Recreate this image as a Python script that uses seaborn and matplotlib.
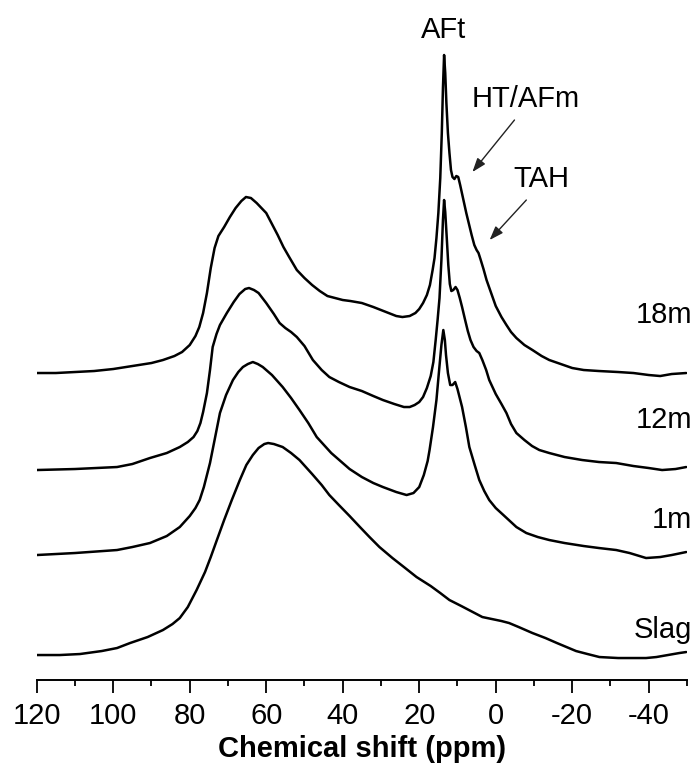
import numpy as np
import pandas as pd
import matplotlib
matplotlib.use("Agg")
import matplotlib.pyplot as plt
from matplotlib.ticker import MultipleLocator
import seaborn as sns

# 27Al MAS NMR spectra, stacked (intensity in a.u. above each trace's own baseline)
ppm_18m = [120, 115, 110, 105, 100, 95, 90, 87, 84, 82, 80, 78.5, 77.5, 76.5, 75.5, 74.5,
           73.5, 72.5, 71, 69.5, 68, 66.5, 65.3, 64, 62.5, 61, 60, 58.5, 57, 55.5, 54, 52,
           50, 48, 46, 44, 42, 40, 38, 35, 32, 30, 28, 26, 24.4, 22.5, 21, 20, 19, 18,
           17.2, 16.5, 16, 15.5, 15, 14.5, 14.1, 13.8, 13.5, 13.2, 12.9, 12.5, 12.1, 11.7,
           11.3, 10.8, 10.3, 9.8, 9.3, 8.5, 7.7, 7, 6.3, 5.6, 5, 4.5, 4, 3.2, 2.4, 1.2, 0,
           -1.5, -2.8, -4, -5.4, -7.5, -9.6, -12, -14, -17, -20, -23, -27, -32, -36, -40,
           -43, -46, -49.8]
int_18m = [0, 0, 1, 2, 4, 7, 10, 13, 17, 21, 28, 37, 46, 60, 80, 105,
           125, 137, 146, 156, 165, 172, 176, 175, 170, 164, 160, 149, 138, 126, 116, 103,
           95, 88, 82, 77, 75, 73, 72, 70, 66, 63, 60, 57, 56, 57, 60, 64, 70, 78,
           88, 103, 115, 135, 160, 195, 240, 285, 318, 300, 270, 240, 220, 203,
           196, 194, 197, 196, 188, 174, 160, 149, 138, 128, 123, 120, 114, 104, 93, 80, 67,
           56, 48, 41, 35, 28, 23, 17, 13, 9, 5, 3, 2, 1, 0, -2,
           -3, -1, 0]

ppm_12m = [120, 110, 99, 95, 90.4, 86, 82.6, 80.5, 79, 78, 77.2, 76.5, 75.5, 74.7, 74, 73,
           72.1, 70.3, 68.5, 67, 65.5, 64.5, 63.2, 62, 61, 60, 58, 56.5, 55, 53.5, 52, 50,
           47.8, 45.5, 43.5, 41, 38.2, 35, 32, 29.5, 26.5, 24, 22.5, 21.2, 20, 19, 18, 17,
           16.3, 15.7, 15.2, 14.7, 14.2, 13.8, 13.5, 13.2, 12.8, 12.4, 12, 11.6, 11.1, 10.5,
           10, 9.4, 8.8, 8, 7.3, 6.6, 5.8, 5, 4.3, 3.5, 2.5, 1.7, 0, -1.5, -2.8, -4, -5.4,
           -7.5, -9.5, -11.4, -14, -18, -22.6, -27, -31.5, -36, -40, -43.5, -47, -49.8]
int_12m = [0, 1, 3, 6, 12, 17, 23, 28, 33, 39, 47, 58, 77, 100, 123, 136,
           145, 157, 168, 176, 181, 182, 180, 177, 172, 167, 156, 147, 142, 138, 133, 124,
           110, 100, 93, 88, 83, 79, 74, 70, 66, 63, 63, 65, 68, 73, 82, 94,
           108, 130, 150, 172, 210, 250, 270, 258, 232, 205, 186, 179, 180, 183,
           180, 172, 163, 150, 139, 130, 123, 119, 117, 110, 100, 90, 76, 66, 57, 46, 37,
           30, 24, 20, 17, 13, 10, 8, 7, 4, 2, 0, 1, 3]

ppm_1m = [120, 110, 99, 95, 90.4, 86, 82.6, 80, 78.5, 77.4, 76.3, 75.5, 74.7, 73.5, 72.1,
          70.5, 68.7, 67.3, 66.1, 64.8, 63.5, 62.2, 60.9, 58.5, 55.7, 53.5, 51.3, 49, 46.8,
          43, 40, 38.2, 35, 32, 29.5, 26, 23.3, 21.5, 20, 18.8, 17.8, 17.3, 16.4, 15.5, 14.8,
          14.2, 13.7, 13.3, 13, 12.5, 11.9, 11.3, 10.6, 10, 9.4, 8.8, 7.8, 6.9, 5.5, 4.3, 3,
          1.7, 0, -2, -5.4, -8, -11, -14, -18, -23, -27, -31.5, -35, -39.3, -43, -46, -49.8]
int_1m = [0, 2, 5, 8, 12, 19, 28, 39, 47, 55, 68, 80, 92, 115, 142,
          160, 175, 183, 188, 191, 193, 191, 188, 180, 168, 157, 145, 132, 118,
          102, 92, 86, 78, 72, 68, 63, 60, 62, 68, 80, 94, 105, 128, 155, 185,
          210, 225, 215, 200, 182, 170, 170, 173, 166, 157, 148, 128, 108, 90, 75, 64,
          55, 47, 40, 28, 22, 18, 15, 12, 9, 7, 5, 2, -3, -2, 0, 3]

ppm_slag = [120, 114, 108.7, 103, 99, 95.6, 91, 87, 84.5, 82.6, 80.5, 78.2, 76, 74.5, 72.9,
            71, 69, 66.9, 65.2, 63.5, 62, 60.5, 59.5, 58, 55.7, 53.5, 51.3, 48, 45.5, 43.5,
            41, 38.2, 35.5, 33, 30.4, 27, 24, 20.7, 17, 14.5, 12.1, 9, 6, 3.5, 1, -1.5, -3.5,
            -6, -9.6, -13, -16, -18.5, -21, -24, -27.1, -32, -36, -39.3, -42, -45, -48, -49.8]
int_slag = [0, 0, 1, 4, 7, 12, 18, 25, 31, 37, 48, 65, 83, 98, 115,
            135, 155, 175, 190, 200, 207, 211, 212, 211, 208, 202, 195, 181, 170, 160,
            150, 139, 128, 118, 108, 97, 88, 78, 69, 62, 55, 49, 43, 38, 36, 34, 32,
            28, 22, 17, 12, 8, 4, 1, -2, -3, -3, -3, -2, 0, 2, 3]

samples = ["18m", "12m", "1m", "Slag"]
offsets = [307, 210, 125, 25]
label_y = [357, 252, 152, 42]

frames = []
for name, x, y, off in zip(samples,
                           [ppm_18m, ppm_12m, ppm_1m, ppm_slag],
                           [int_18m, int_12m, int_1m, int_slag],
                           offsets):
    frames.append(pd.DataFrame({"ppm": x, "signal": np.asarray(y) + off, "sample": name}))
data = pd.concat(frames, ignore_index=True)

sns.set_theme(style="ticks")
plt.rcParams["font.family"] = ["Liberation Sans", "DejaVu Sans"]
plt.rcParams["axes.unicode_minus"] = False

fig = plt.figure(figsize=(6.94, 7.74), dpi=100)
ax = fig.add_axes([0.0529, 0.1214, 0.937, 0.8786])

sns.lineplot(data=data, x="ppm", y="signal", units="sample", estimator=None, sort=False,
             color="black", linewidth=1.8, ax=ax, legend=False)
for line in ax.lines:
    line.set_solid_joinstyle("round")

ax.set_xlim(120, -50)
ax.set_ylim(0, 680)

for s in ["left", "top", "right"]:
    ax.spines[s].set_visible(False)
ax.spines["bottom"].set_linewidth(1.4)
ax.spines["bottom"].set_color("black")
ax.set_yticks([])
ax.set_ylabel("")

ax.xaxis.set_major_locator(MultipleLocator(20))
ax.xaxis.set_minor_locator(MultipleLocator(10))
ax.tick_params(axis="x", which="major", direction="out", length=9.5, width=1.3,
               color="black", labelsize=21, pad=6, labelcolor="black")
ax.tick_params(axis="x", which="minor", direction="out", length=4.5, width=1.3, color="black")
ax.set_xlabel("Chemical shift (ppm)", fontsize=21, fontweight="bold", color="black", labelpad=4)

for name, ly in zip(samples, label_y):
    ax.text(-51.3, ly, name, ha="right", va="baseline", fontsize=21, color="black")

ax.text(13.7, 642, "AFt", ha="center", va="baseline", fontsize=21, color="black")
ax.text(-7.8, 573, "HT/AFm", ha="center", va="baseline", fontsize=21, color="black")
ax.text(-12.0, 493, "TAH", ha="center", va="baseline", fontsize=21, color="black")

arrow = dict(arrowstyle="-|>,head_length=0.7,head_width=0.25", color="#222222", lw=1.0,
             shrinkA=0, shrinkB=0)
ax.annotate("", xy=(6.1, 508), xytext=(-4.9, 560), arrowprops=arrow)
ax.annotate("", xy=(1.6, 440), xytext=(-8.0, 480), arrowprops=arrow)

fig.savefig("out.png", dpi=100, facecolor="white")
